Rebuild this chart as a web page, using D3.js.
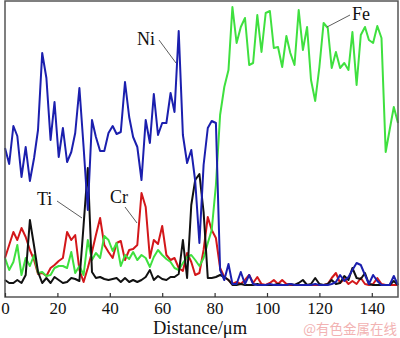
<!DOCTYPE html>
<html><head><meta charset="utf-8">
<script src="https://cdn.jsdelivr.net/npm/d3@7"></script>
<style>html,body{margin:0;padding:0;background:#fff;}svg{display:block;}</style>
</head><body>
<div id="chart"></div>
<script>
// Distance grid (µm), 96 points spanning 0–150 µm
const distance = [0,1.6,3.2,4.7,6.3,7.9,9.5,11.1,12.6,14.2,15.8,17.4,18.9,20.5,22.1,23.7,25.3,26.8,28.4,30.0,31.6,33.2,34.7,36.3,37.9,39.5,41.1,42.6,44.2,45.8,47.4,48.9,50.5,52.1,53.7,55.3,56.8,58.4,60.0,61.6,63.2,64.7,66.3,67.9,69.5,71.1,72.6,74.2,75.8,77.4,78.9,80.5,82.1,83.7,85.3,86.8,88.4,90.0,91.6,93.2,94.7,96.3,97.9,99.5,101.1,102.6,104.2,105.8,107.4,108.9,110.5,112.1,113.7,115.3,116.8,118.4,120.0,121.6,123.2,124.7,126.3,127.9,129.5,131.1,132.6,134.2,135.8,137.4,138.9,140.5,142.1,143.7,145.3,146.8,148.4,150.0];

// Intensity (arbitrary units)
const ni = [149,133,171,161,120,150,116,139,167,244,219,157,195,140,169,135,145,164,209,150,87,177,160,146,146,164,171,163,165,215,180,160,150,117,177,154,203,162,174,174,204,185,266,162,134,147,116,54,132,169,176,174,27,17,33,13,13,25,13,22,13,12,12,12,13,12,12,12,12,13,12,12,12,12,12,13,12,12,12,13,15,22,16,20,27,34,32,22,13,22,16,12,12,12,21,12];
const fe = [39,27,35,52,22,39,31,42,24,25,21,22,29,31,31,29,45,24,31,22,57,37,44,39,61,57,46,54,31,42,38,45,37,42,39,30,40,47,42,38,35,29,27,34,40,42,37,31,39,54,67,112,182,210,227,290,254,270,279,232,234,282,245,284,286,249,250,230,261,244,232,287,247,270,217,196,230,274,269,229,245,229,234,227,265,212,262,270,257,254,271,259,145,167,190,174];
const ti = [17,14,14,17,14,22,77,51,25,14,19,14,20,17,14,15,19,18,16,72,129,25,19,20,18,17,18,19,15,19,15,17,15,17,20,27,17,21,18,17,20,20,23,57,19,92,117,123,85,19,19,20,22,20,17,12,12,13,12,12,12,13,12,12,12,12,13,12,12,13,12,14,17,12,13,19,13,12,13,17,13,14,21,17,29,19,18,24,13,12,12,12,12,12,16,12];
const cr = [39,52,65,57,69,60,47,37,23,24,21,29,32,36,39,65,57,62,27,15,29,45,62,79,52,45,39,54,56,37,47,48,52,104,90,39,57,53,71,42,37,39,29,26,44,35,22,24,47,80,67,59,29,20,17,13,15,13,17,22,14,20,13,12,14,17,13,17,13,12,12,12,12,12,12,12,12,12,13,19,24,14,18,13,16,13,19,13,12,13,19,13,12,12,12,12];

const xTicks = [0,20,40,60,80,100,120,140];
const seriesNames = ["Cr","Fe","Ti","Ni"];
const seriesColors = {Ni:"#1b1fae", Fe:"#3fe03f", Ti:"#111111", Cr:"#d3171a"};
const seriesData = {Ni:ni, Fe:fe, Ti:ti, Cr:cr};
const xLabel = "Distance/μm";
const watermark = "@有色金属在线";

const W = 400, H = 338;
const svg = d3.select("#chart").append("svg").attr("width", W).attr("height", H);

const x = d3.scaleLinear().domain([0,150]).range([5,398]);
const y = d3.scaleLinear().domain([0,296]).range([297,1]);

const line = d3.line().x((d,i)=>x(distance[i])).y(d=>y(d));

const plot = svg.append("g");
seriesNames.forEach(name=>{
  plot.append("path")
    .datum(seriesData[name])
    .attr("fill","none")
    .attr("stroke",seriesColors[name])
    .attr("stroke-width",2)
    .attr("stroke-linejoin","round")
    .attr("d",line);
});

// frame
svg.append("rect").attr("x",5).attr("y",1).attr("width",393).attr("height",296)
  .attr("fill","none").attr("stroke","#555").attr("stroke-width",1.5);

// bottom axis with inward ticks
const axis = d3.axisBottom(x).tickValues(xTicks).tickSizeInner(-4).tickSizeOuter(0).tickPadding(10)
  .tickFormat(d3.format("d"));
const ax = svg.append("g").attr("transform","translate(0,297)").call(axis);
ax.select(".domain").remove();
ax.selectAll(".tick line").attr("stroke","#333").attr("stroke-width",1.2);
ax.selectAll(".tick text").attr("font-family","'Liberation Serif','Times New Roman',serif")
  .attr("font-size",17).attr("fill","#111").attr("dy",null).attr("y",16.5);

svg.append("text").attr("x",153).attr("y",334).attr("font-family","'Liberation Serif','Times New Roman',serif")
  .attr("font-size",18.5).attr("fill","#111").text(xLabel);

// series labels with leader lines
const labels = [
  {name:"Ni", tx:137, ty:45, l:[159,40,176,63]},
  {name:"Fe", tx:352, ty:20, l:[350,15,327,27]},
  {name:"Ti", tx:37, ty:205, l:[57,201,82,218]},
  {name:"Cr", tx:110, ty:203, l:[125,207,137,223]}
];
labels.forEach(o=>{
  svg.append("line").attr("x1",o.l[0]).attr("y1",o.l[1]).attr("x2",o.l[2]).attr("y2",o.l[3])
    .attr("stroke","#333").attr("stroke-width",0.8);
  svg.append("text").attr("x",o.tx).attr("y",o.ty)
    .attr("font-family","'Liberation Serif','Times New Roman',serif")
    .attr("font-size",18).attr("fill","#111").text(o.name);
});

svg.append("text").attr("x",397).attr("y",334).attr("text-anchor","end")
  .attr("font-family","'Noto Sans CJK SC',sans-serif").attr("font-size",13.5)
  .attr("fill","#f2b3b3").text(watermark);
</script>
</body></html>
